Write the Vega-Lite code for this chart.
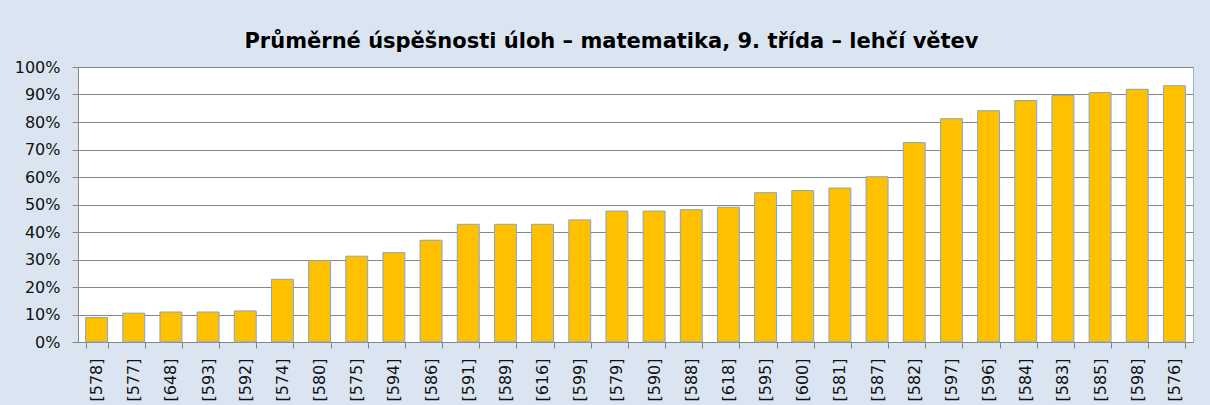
{
  "$schema": "https://vega.github.io/schema/vega-lite/v6.json",
  "autosize": "none",
  "width": 1115,
  "height": 275,
  "padding": {"left": 78, "top": 67, "right": 17, "bottom": 63},
  "background": "#dbe5f1",
  "title": {
    "text": "Průměrné úspěšnosti úloh – matematika, 9. třída – lehčí větev",
    "font": "DejaVu Sans",
    "fontWeight": "bold",
    "fontSize": 21,
    "color": "#000000",
    "anchor": "middle",
    "baseline": "alphabetic",
    "offset": -10,
    "dx": -24
  },
  "config": {
    "view": {"fill": "#ffffff", "stroke": "#8eb4e3", "strokeWidth": 1},
    "axis": {
      "labelFont": "DejaVu Sans",
      "labelFontSize": 16,
      "labelColor": "#111111",
      "domainColor": "#868686",
      "tickColor": "#868686",
      "gridColor": "#868686",
      "labelOverlap": false,
      "title": null
    }
  },
  "data": {
    "values": [
      {"uloha": "[578]", "uspesnost": 0.089},
      {"uloha": "[577]", "uspesnost": 0.105},
      {"uloha": "[648]", "uspesnost": 0.109},
      {"uloha": "[593]", "uspesnost": 0.109},
      {"uloha": "[592]", "uspesnost": 0.113},
      {"uloha": "[574]", "uspesnost": 0.228},
      {"uloha": "[580]", "uspesnost": 0.296},
      {"uloha": "[575]", "uspesnost": 0.312},
      {"uloha": "[594]", "uspesnost": 0.325},
      {"uloha": "[586]", "uspesnost": 0.370},
      {"uloha": "[591]", "uspesnost": 0.428},
      {"uloha": "[589]", "uspesnost": 0.428},
      {"uloha": "[616]", "uspesnost": 0.428},
      {"uloha": "[599]", "uspesnost": 0.444},
      {"uloha": "[579]", "uspesnost": 0.476},
      {"uloha": "[590]", "uspesnost": 0.476},
      {"uloha": "[588]", "uspesnost": 0.481},
      {"uloha": "[618]", "uspesnost": 0.490},
      {"uloha": "[595]", "uspesnost": 0.543},
      {"uloha": "[600]", "uspesnost": 0.551},
      {"uloha": "[581]", "uspesnost": 0.560},
      {"uloha": "[587]", "uspesnost": 0.601},
      {"uloha": "[582]", "uspesnost": 0.725},
      {"uloha": "[597]", "uspesnost": 0.812},
      {"uloha": "[596]", "uspesnost": 0.841},
      {"uloha": "[584]", "uspesnost": 0.878},
      {"uloha": "[583]", "uspesnost": 0.896},
      {"uloha": "[585]", "uspesnost": 0.907},
      {"uloha": "[598]", "uspesnost": 0.919},
      {"uloha": "[576]", "uspesnost": 0.932}
    ]
  },
  "mark": {"type": "bar", "fill": "#ffc000", "stroke": "#7ea6d6", "strokeWidth": 1},
  "encoding": {
    "x": {
      "field": "uloha",
      "type": "nominal",
      "sort": null,
      "scale": {"paddingInner": 0.41, "paddingOuter": 0.205},
      "axis": {
        "labelAngle": -90,
        "tickBand": "extent",
        "tickSize": 6,
        "labelPadding": 10,
        "grid": false
      }
    },
    "y": {
      "field": "uspesnost",
      "type": "quantitative",
      "scale": {"domain": [0, 1], "nice": false},
      "axis": {
        "format": ".0%",
        "values": [0, 0.1, 0.2, 0.3, 0.4, 0.5, 0.6, 0.7, 0.8, 0.9, 1],
        "tickSize": 6,
        "labelPadding": 12,
        "domain": true,
        "grid": true
      }
    }
  }
}
